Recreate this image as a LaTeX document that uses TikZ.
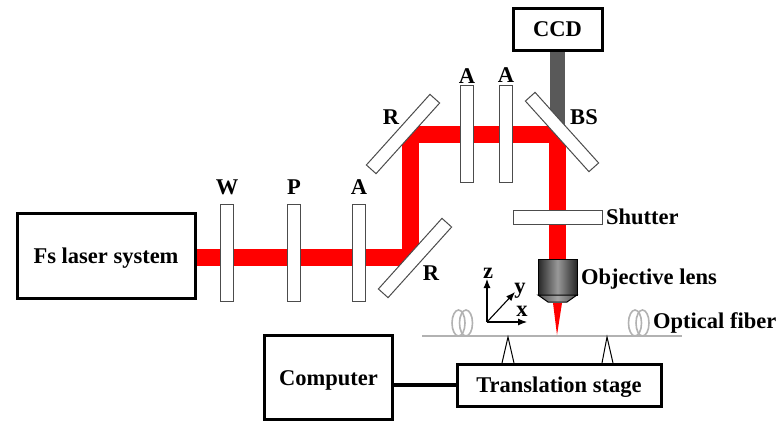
\documentclass[tikz,border=0pt]{standalone}
\usepackage{fontspec}
\setmainfont{Liberation Serif}
\usetikzlibrary{arrows.meta,shapes,backgrounds}
\tikzstyle{box}=[draw,line width=3pt,fill=white,inner sep=0pt,text height=15pt,text depth=0pt,font=\fontsize{22.5}{22.5}\selectfont\bfseries]
\tikzstyle{plate}=[draw=black!70,line width=1pt,fill=white,minimum width=13pt,minimum height=97pt,inner sep=0pt]
\tikzstyle{mirror}=[plate,minimum height=95pt]
\tikzstyle{tag}=[font=\fontsize{22.5}{22.5}\selectfont\bfseries,inner sep=0pt,text height=15pt,text depth=0pt]
\tikzstyle{beam}=[draw=red,line width=17pt,line join=bevel]
\tikzstyle{coil}=[draw=black!30,line width=1.6pt,x radius=6.5pt,y radius=13pt]
\tikzstyle{axis}=[draw,line width=1.1pt,-{Latex[length=9pt,width=7pt]}]

\begin{document}
\begin{tikzpicture}[x=1pt,y=-1pt]
        \useasboundingbox (0,0) rectangle (776,421);
        % boxes
        \node[box,minimum width=178pt,minimum height=85pt] (laser) at (106,255.5) {Fs laser system};
        \node[box,minimum width=89pt,minimum height=42pt] (ccd) at (557.5,29) {CCD};
        \node[box,minimum width=128pt,minimum height=84pt] (computer) at (328.5,377.5) {Computer};
        \node[box,minimum width=204pt,minimum height=42pt] (stage) at (559,385) {Translation stage};
        % plates and mirrors
        \node[plate] (w) at (226.5,252.5) {};
        \node[plate] (p) at (293.5,252.5) {};
        \node[plate] (a1) at (358.5,252.5) {};
        \node[plate] (a2) at (466.5,134) {};
        \node[plate] (a3) at (505.5,134) {};
        \node[plate,minimum width=89pt,minimum height=14pt] (shutter) at (557.5,217) {};
        \node[mirror,rotate=-42] (r1) at (415,258) {};
        \node[mirror,rotate=-42] (r2) at (403,134) {};
        \node[mirror,rotate=42] (bs) at (562,132) {};
        % labels
        \node[tag] (lw) at (227,187) {W};
        \node[tag] (lp) at (294,187) {P};
        \node[tag] (la1) at (359,187) {A};
        \node[tag] (la2) at (467,76) {A};
        \node[tag] (la3) at (506,75) {A};
        \node[tag] (lr1) at (431,273) {R};
        \node[tag] (lr2) at (391,117) {R};
        \node[tag] (lbs) at (584,117) {BS};
        \node[tag,anchor=west] (lshutter) at (606,217) {Shutter};
        \node[tag,anchor=west] (llens) at (581,277) {Objective lens};
        \node[tag,anchor=west] (lfiber) at (653,321) {Optical fiber};
        % objective
        \shade[left color=black!85,right color=black!85,middle color=black!40,draw=black,line width=1pt] (538,259) rectangle (577,295);
        \shade[left color=black!70,right color=black!70,middle color=black!35,draw=black,line width=1pt] (538,295) -- (577,295) -- (567,302) -- (548,302) -- cycle;
        \coordinate (lensin) at (557.5,259);
        \node[coordinate] (focus) at (557,335) {};
        \fill[red] (553,303) -- (562,303) -- (focus) -- cycle;
        % fiber
        \node[coordinate] (fa) at (422,335.5) {};
        \node[coordinate] (fb) at (682,335.5) {};
        \draw[coil] (458.5,323) circle;
        \draw[coil] (466,323) circle;
        \draw[coil] (635,323) circle;
        \draw[coil] (642.5,323) circle;
        \draw[black!30,line width=2pt] (fa) -- (fb);
        % axes
        \node[coordinate] (o) at (487,322) {};
        \node[tag] (lz) at (488,271) {z};
        \node[tag] (ly) at (520,286) {y};
        \node[tag] (lx) at (522,308.5) {x};
        \draw[axis] (o) -- (487,279);
        \draw[axis] (o) -- (515,292);
        \draw[axis] (o) -- (527,322);
        % supports
        \draw[line width=1pt] (502,363) -- (508,337) -- (514,363);
        \draw[line width=1pt] (602,363) -- (607,337) -- (613,363);
        \draw[line width=3.6pt] (computer.east |- stage) -- (stage);
        \begin{scope}[on background layer]
          \coordinate (c1) at (410,257.5);
          \coordinate (c2) at (410,134);
          \coordinate (c3) at (557.5,134);
          \draw[beam] (laser.east |- c1) -- (c1) -- (c2) -- (c3) -- (lensin);
          \draw[draw=black!65,line width=15pt] (ccd) -- (557.5,127);
        \end{scope}
      \end{tikzpicture}
\end{document}
